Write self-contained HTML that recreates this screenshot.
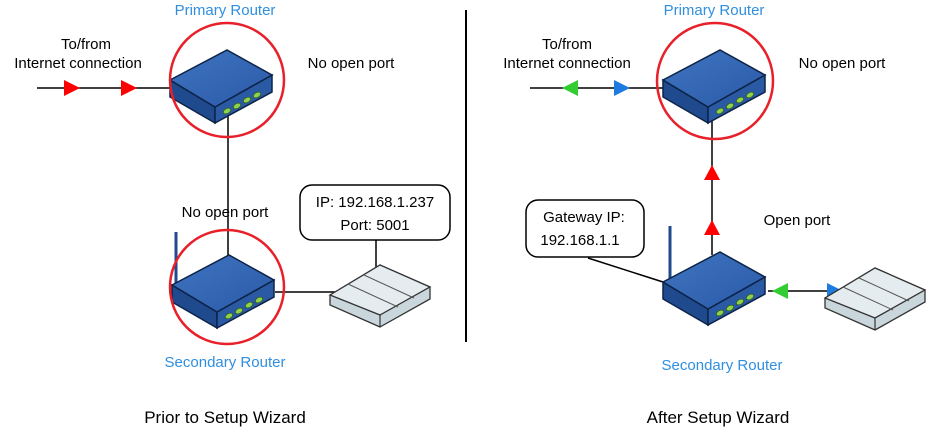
<!DOCTYPE html>
<html><head><meta charset="utf-8"><style>
html,body{margin:0;padding:0;background:#fff;}
svg{display:block;font-family:"Liberation Sans",sans-serif;}
</style></head><body>
<svg width="937" height="434" viewBox="0 0 937 434">
<defs>
<linearGradient id="tg" x1="0" y1="0" x2="1" y2="1"><stop offset="0" stop-color="#3f74c0"/><stop offset="1" stop-color="#2a5aa8"/></linearGradient>
<g id="router">
<polygon points="0,0 45,27 45,43 0,17" fill="#1f4a8e" stroke="#0d2347" stroke-width="1.5"/>
<polygon points="45,27 102,-5 102,12 45,43" fill="#2b5aa5" stroke="#0d2347" stroke-width="1.5"/>
<polygon points="0,0 57,-30 102,-5 45,27" fill="url(#tg)" stroke="#0d2347" stroke-width="1.5"/>
<g fill="#8fd14f" stroke="#2d5a1a" stroke-width="0.8">
<ellipse cx="57" cy="31" rx="4" ry="2.5" transform="rotate(-28 57 31)"/>
<ellipse cx="67" cy="26" rx="4" ry="2.5" transform="rotate(-28 67 26)"/>
<ellipse cx="77" cy="20" rx="4" ry="2.5" transform="rotate(-28 77 20)"/>
<ellipse cx="87" cy="15" rx="4" ry="2.5" transform="rotate(-28 87 15)"/>
</g>
</g>
<g id="dev">
<polygon points="0,30 50,0 100,22 100,34 50,62 0,40" fill="#c9d6dc" stroke="#333" stroke-width="1.3"/>
<polygon points="0,30 50,0 100,22 50,50" fill="#e4ecef" stroke="#333" stroke-width="1.3"/>
<line x1="50" y1="50" x2="50" y2="62" stroke="#333" stroke-width="1.2"/>
<line x1="18" y1="19" x2="68" y2="42" stroke="#555" stroke-width="1"/>
<line x1="34" y1="10" x2="84" y2="33" stroke="#555" stroke-width="1"/>
</g>
</defs>

<line x1="466" y1="10" x2="466" y2="342" stroke="#000" stroke-width="2"/>

<!-- LEFT -->
<line x1="37" y1="88" x2="172" y2="88" stroke="#000" stroke-width="1.5"/>
<polygon points="64,80 80,88 64,96" fill="#ff0000"/>
<polygon points="121,80 137,88 121,96" fill="#ff0000"/>
<line x1="228" y1="115" x2="228" y2="265" stroke="#000" stroke-width="1.5"/>
<line x1="275" y1="292" x2="352" y2="292" stroke="#000" stroke-width="1.5"/>
<line x1="376" y1="240" x2="376" y2="278" stroke="#000" stroke-width="1.5"/>
<line x1="176" y1="232" x2="176" y2="283" stroke="#1f4a8e" stroke-width="3"/>
<use href="#router" x="170" y="80"/>
<use href="#router" x="172" y="285"/>
<circle cx="227" cy="80" r="57" fill="none" stroke="#e8202a" stroke-width="2.5"/>
<circle cx="227" cy="287" r="57" fill="none" stroke="#e8202a" stroke-width="2.5"/>
<use href="#dev" x="330" y="265"/>
<rect x="300" y="185" width="150" height="55" rx="12" fill="#fff" stroke="#000" stroke-width="1.5"/>
<g font-size="15" fill="#000" text-anchor="middle">
<text x="375" y="207">IP: 192.168.1.237</text>
<text x="375" y="230">Port: 5001</text>
<text x="86" y="49">To/from</text>
<text x="78" y="68">Internet connection</text>
<text x="351" y="68">No open port</text>
<text x="225" y="217">No open port</text>
<text x="225" y="423" font-size="17">Prior to Setup Wizard</text>
</g>
<g font-size="15" fill="#2f8fe0" text-anchor="middle">
<text x="225" y="15">Primary Router</text>
<text x="225" y="367">Secondary Router</text>
</g>

<!-- RIGHT -->
<line x1="530" y1="88" x2="664" y2="88" stroke="#000" stroke-width="1.5"/>
<polygon points="578,80 562,88 578,96" fill="#33cc33"/>
<polygon points="614,80 630,88 614,96" fill="#1f7be0"/>
<line x1="712" y1="118" x2="712" y2="255" stroke="#000" stroke-width="1.5"/>
<polygon points="704,180 712,165 720,180" fill="#ff0000"/>
<polygon points="704,235 712,220 720,235" fill="#ff0000"/>
<line x1="768" y1="291" x2="840" y2="291" stroke="#000" stroke-width="1.5"/>
<polygon points="788,283 772,291 788,299" fill="#33cc33"/>
<polygon points="827,283 843,291 827,299" fill="#1f7be0"/>
<line x1="588" y1="258" x2="663" y2="282" stroke="#000" stroke-width="1.5"/>
<line x1="670" y1="226" x2="670" y2="280" stroke="#1f4a8e" stroke-width="3"/>
<use href="#router" x="663" y="80"/>
<use href="#router" x="663" y="282"/>
<circle cx="715" cy="81" r="58" fill="none" stroke="#e8202a" stroke-width="2.5"/>
<use href="#dev" x="825" y="268"/>
<rect x="526" y="200" width="118" height="57" rx="12" fill="#fff" stroke="#000" stroke-width="1.5"/>
<g font-size="15" fill="#000" text-anchor="middle">
<text x="584" y="222">Gateway IP:</text>
<text x="580" y="245">192.168.1.1</text>
<text x="567" y="49">To/from</text>
<text x="567" y="68">Internet connection</text>
<text x="842" y="68">No open port</text>
<text x="797" y="225">Open port</text>
<text x="718" y="423" font-size="17">After Setup Wizard</text>
</g>
<g font-size="15" fill="#2f8fe0" text-anchor="middle">
<text x="714" y="15">Primary Router</text>
<text x="722" y="370">Secondary Router</text>
</g>
</svg>
</body></html>
